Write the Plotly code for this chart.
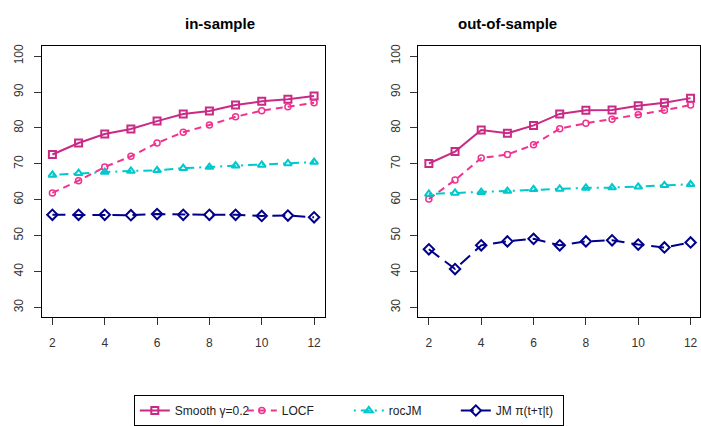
import plotly.graph_objects as go

# Prediction horizon (years)
horizon = [2, 3, 4, 5, 6, 7, 8, 9, 10, 11, 12]

# in-sample accuracy (%)
smooth_in = [72.6, 75.8, 78.3, 79.7, 81.9, 83.9, 84.7, 86.4, 87.4, 88.0, 88.9]
locf_in = [61.9, 65.3, 69.1, 72.1, 75.8, 78.8, 80.8, 83.1, 84.8, 85.9, 87.0]
rocjm_in = [66.9, 67.4, 67.7, 68.0, 68.2, 68.8, 69.1, 69.5, 69.7, 70.1, 70.5]
jm_in = [55.8, 55.8, 55.8, 55.7, 56.0, 55.8, 55.8, 55.8, 55.5, 55.6, 55.1]

# out-of-sample accuracy (%)
smooth_out = [70.1, 73.4, 79.4, 78.5, 80.7, 83.9, 84.9, 85.0, 86.2, 87.0, 88.3]
locf_out = [60.2, 65.5, 71.6, 72.6, 75.3, 79.8, 81.3, 82.4, 83.7, 84.9, 86.4]
rocjm_out = [61.6, 61.9, 62.1, 62.4, 62.9, 63.0, 63.3, 63.4, 63.6, 64.0, 64.3]
jm_out = [46.2, 40.7, 47.3, 48.4, 49.1, 47.3, 48.4, 48.7, 47.5, 46.7, 48.1]

x_ticks = [2, 4, 6, 8, 10, 12]
y_ticks = [30, 40, 50, 60, 70, 80, 90, 100]

# name, colour, dash pattern, marker symbol, marker size, marker stroke
series = [
    ("Smooth \u03b3=0.2", "#C92A86", "solid", "square-open", 7, 2),
    ("LOCF", "#F0338E", "7px,5px", "circle-open", 6, 1.5),
    ("rocJM", "#00C8CC", "2px,5px,9px,5px", "triangle-up-open", 7, 2),
    ("JM \u03c0(t+\u03c4|t)", "#00008B", "13px,7px", "diamond-open", 8, 2),
]
panels = [
    ("x", "y", [smooth_in, locf_in, rocjm_in, jm_in], True),
    ("x2", "y2", [smooth_out, locf_out, rocjm_out, jm_out], False),
]

fig = go.Figure()
for xa, ya, values, show in panels:
    for (name, color, dash, symbol, size, stroke), vals in zip(series, values):
        fig.add_trace(go.Scatter(
            x=horizon, y=vals, xaxis=xa, yaxis=ya, name=name,
            mode="lines+markers", showlegend=show,
            line=dict(color=color, width=2, dash=dash),
            marker=dict(symbol=symbol, size=size, color=color,
                        line=dict(width=stroke, color=color)),
        ))

W, H = 701, 426
tick_font = dict(family="Liberation Sans, Arial, sans-serif", size=12, color="#333333")

def xaxis(left, right, rng, mirror):
    return dict(domain=[left / W, right / W], range=rng, tickvals=x_ticks,
                ticks="outside", ticklen=7, tickcolor="#333333", tickwidth=1,
                ticklabelstandoff=7, showgrid=False, zeroline=False,
                showline=True, linecolor="black", linewidth=1, mirror=mirror,
                tickfont=tick_font)

def yaxis(anchor, mirror):
    return dict(domain=[(H - 320) / H, (H - 44.7) / H], range=[27.2, 102.8],
                tickvals=y_ticks, tickangle=-90, anchor=anchor,
                ticks="outside", ticklen=7, tickcolor="#333333", tickwidth=1,
                ticklabelstandoff=6, showgrid=False, zeroline=False,
                showline=True, linecolor="black", linewidth=1, mirror=mirror,
                tickfont=tick_font)

fig.update_layout(
    width=W, height=H,
    margin=dict(l=0, r=0, t=0, b=0),
    paper_bgcolor="white", plot_bgcolor="white",
    font=dict(family="Liberation Sans, Arial, sans-serif", color="black"),
    xaxis=xaxis(42, 325, [1.6, 12.4], True),
    yaxis=yaxis("x", True),
    xaxis2=dict(xaxis(419, 701, [1.6, 12.36], True), anchor="y2"),
    yaxis2=yaxis("x2", True),
    showlegend=True,
    legend=dict(orientation="h", x=134 / W, xanchor="left", y=(H - 399) / H,
                yanchor="top", bordercolor="black", borderwidth=1,
                entrywidth=62, entrywidthmode="pixels",
                font=dict(size=12, color="#222222"), bgcolor="white",
                itemwidth=30, tracegroupgap=0),
    annotations=[
        dict(text="<b>in-sample</b>", x=183 / W, y=(H - 22) / H, xref="paper",
             yref="paper", yanchor="middle", showarrow=False, font=dict(size=15)),
        dict(text="<b>out-of-sample</b>", x=560 / W, y=(H - 22) / H, xref="paper",
             yref="paper", yanchor="middle", showarrow=False, font=dict(size=15)),
    ],
)

fig.write_html("out.html")
